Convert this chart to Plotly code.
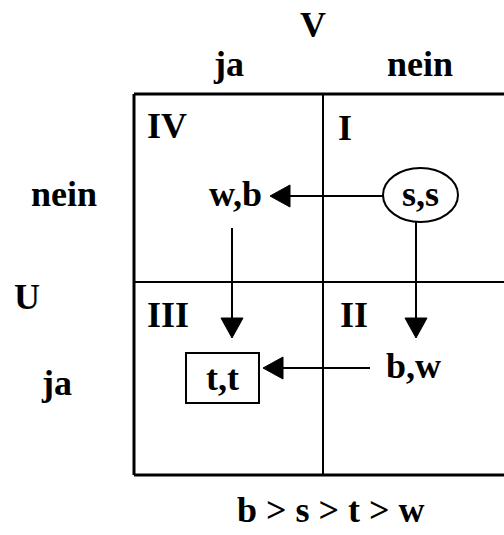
import plotly.graph_objects as go

# Labels of the 2x2 game diagram
col_title = "V"
col_labels = ["ja", "nein"]
row_title = "U"
row_labels = ["nein", "ja"]
quadrant_labels = ["IV", "I", "III", "II"]
payoffs = ["w,b", "s,s", "t,t", "b,w"]
ordering = "b > s > t > w"

FONT = dict(family="Liberation Serif, Times New Roman, serif", size=36, color="black")

W, Hh = 504, 535

fig = go.Figure()
fig.add_trace(go.Scatter(x=[0, W], y=[0, Hh], mode="markers",
                         marker=dict(opacity=0), hoverinfo="skip", showlegend=False))

shapes = []
# grid
L, M, R = 134, 323, 520
T, H, B = 94, 282, 475
shapes.append(dict(type="line", x0=L, x1=R, y0=T, y1=T, line=dict(color="black", width=3)))
shapes.append(dict(type="line", x0=L, x1=R, y0=B, y1=B, line=dict(color="black", width=3)))
shapes.append(dict(type="line", x0=L, x1=L, y0=T, y1=B, line=dict(color="black", width=3)))
shapes.append(dict(type="line", x0=M, x1=M, y0=T, y1=B, line=dict(color="black", width=2)))
shapes.append(dict(type="line", x0=L, x1=R, y0=H, y1=H, line=dict(color="black", width=2)))

# ellipse around s,s and box around t,t
shapes.append(dict(type="circle", x0=383, x1=458, y0=168, y1=222, line=dict(color="black", width=2)))
shapes.append(dict(type="rect", x0=186, x1=259, y0=353, y1=403, line=dict(color="black", width=2)))

# arrow lines
shapes.append(dict(type="line", x0=383, x1=288, y0=196, y1=196, line=dict(color="black", width=2)))
shapes.append(dict(type="line", x0=232, x1=232, y0=228, y1=320, line=dict(color="black", width=2)))
shapes.append(dict(type="line", x0=416, x1=416, y0=222, y1=320, line=dict(color="black", width=2)))
shapes.append(dict(type="line", x0=370, x1=280, y0=368, y1=368, line=dict(color="black", width=2)))

# arrowheads
def tri(path):
    return dict(type="path", path=path, fillcolor="black", line=dict(color="black", width=1))
shapes.append(tri("M 270 196 L 290 185 L 290 207 Z"))
shapes.append(tri("M 232 338 L 221 318 L 243 318 Z"))
shapes.append(tri("M 416 338 L 405 318 L 427 318 Z"))
shapes.append(tri("M 263 368 L 283 357 L 283 379 Z"))

ann = []
def txt(x, y, s):
    ann.append(dict(x=x, y=y, text="<b>%s</b>" % s, showarrow=False, font=FONT,
                    xanchor="center", yanchor="middle"))

txt(313, 25, col_title)
txt(228, 64, col_labels[0])
txt(420, 64, col_labels[1])
txt(64, 194, row_labels[0])
txt(56, 383, row_labels[1])
txt(27, 297, row_title)
txt(167, 126, quadrant_labels[0])
txt(345, 128, quadrant_labels[1])
txt(168, 315, quadrant_labels[2])
txt(354, 315, quadrant_labels[3])
txt(235, 194, payoffs[0])
txt(420, 194, payoffs[1])
txt(222, 378, payoffs[2])
txt(413, 366, payoffs[3])
txt(331, 510, ordering)

fig.update_layout(
    width=W, height=Hh,
    margin=dict(l=0, r=0, t=0, b=0),
    paper_bgcolor="white", plot_bgcolor="white",
    xaxis=dict(range=[0, W], visible=False, fixedrange=True),
    yaxis=dict(range=[Hh, 0], visible=False, fixedrange=True),
    shapes=shapes, annotations=ann, showlegend=False,
)
fig.write_html("out.html", config={"displayModeBar": False},
               post_script="document.body.style.margin='0';document.body.style.overflow='hidden';")
